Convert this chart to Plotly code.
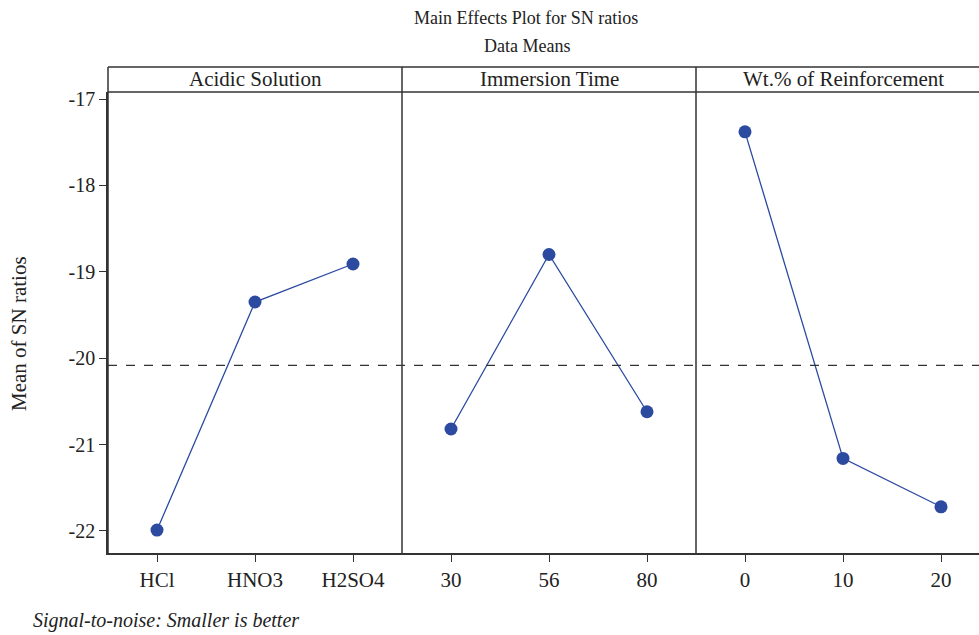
import numpy as np
import plotly.graph_objects as go

# ---- data ----
factors = ["Acidic Solution", "Immersion Time", "Wt.% of Reinforcement"]
acid_levels = ["HCl", "HNO3", "H2SO4"]
acid_sn = [-21.99, -19.35, -18.91]
time_levels = ["30", "56", "80"]
time_sn = [-20.82, -18.80, -20.62]
wt_levels = ["0", "10", "20"]
wt_sn = [-17.38, -21.16, -21.72]
y_ticks = [-17, -18, -19, -20, -21, -22]
y_ticklabels = ["-17", "-18", "-19", "-20", "-21", "-22"]

grand_mean = float(np.mean(acid_sn + time_sn + wt_sn))

FONT = "Liberation Serif"
INK = "#333333"
TXT = "#222222"
BLUE = "#2b4aa0"

W, H = 979, 635
ml, mr, mt, mb = 108, 0, 67, 82
plot_w = W - ml - mr
plot_h = H - mt - mb
data_top = 461 / plot_h  # header strip above this

d1 = 294 / plot_w
d2 = 588 / plot_w

fig = go.Figure()
series = [(acid_levels, acid_sn, "x"), (time_levels, time_sn, "x2"), (wt_levels, wt_sn, "x3")]
for lv, vals, xa in series:
    fig.add_trace(go.Scatter(
        x=lv, y=vals, xaxis=xa, yaxis="y", mode="lines+markers",
        line=dict(color=BLUE, width=1.3),
        marker=dict(color=BLUE, size=13),
        showlegend=False, hoverinfo="x+y"))

xcommon = dict(type="category", showline=True, linecolor=INK, linewidth=1.5,
               ticks="outside", ticklen=7, tickwidth=1.3, tickcolor=INK,
               showgrid=False, zeroline=False, anchor="y",
               tickfont=dict(family=FONT, size=21, color=TXT))
fig.update_layout(
    width=W, height=H,
    margin=dict(l=ml, r=mr, t=mt, b=mb),
    paper_bgcolor="white", plot_bgcolor="white",
    xaxis=dict(domain=[0, d1], range=[-0.5, 2.5], **xcommon),
    xaxis2=dict(domain=[d1, d2], range=[-0.5, 2.5], **xcommon),
    xaxis3=dict(domain=[d2, 1], range=[-0.5, -0.5 + 283 / 98], **xcommon),
    yaxis=dict(domain=[0, data_top], range=[-22.255, -16.919], anchor="x",
               tickvals=y_ticks, ticktext=y_ticklabels,
               showline=True, linecolor=INK, linewidth=1.5,
               ticks="outside", ticklen=7, tickwidth=1.3, tickcolor=INK,
               showgrid=False, zeroline=False,
               tickfont=dict(family=FONT, size=20, color=TXT)),
)

shapes = []
for xp in [0, d1, d2]:
    shapes.append(dict(type="line", xref="paper", yref="paper", x0=xp, x1=xp, y0=0, y1=1,
                       line=dict(color=INK, width=1.5)))
for yp in [1, data_top]:
    shapes.append(dict(type="line", xref="paper", yref="paper", x0=0, x1=1, y0=yp, y1=yp,
                       line=dict(color=INK, width=1.5)))
shapes.append(dict(type="line", xref="paper", yref="y", x0=0, x1=1, y0=grand_mean, y1=grand_mean,
                   line=dict(color=INK, width=1.2, dash="dash")))
fig.update_layout(shapes=shapes)

def py(p):
    return (H - mb - p) / plot_h

def px(p):
    return (p - ml) / plot_w

ann = []
centers = [d1 / 2, (d1 + d2) / 2, (d2 + (d2 + d1)) / 2]
for name, cx in zip(factors, centers):
    ann.append(dict(text=name, xref="paper", yref="paper", x=cx, y=(1 + data_top) / 2,
                    xanchor="center", yanchor="middle", showarrow=False,
                    font=dict(family=FONT, size=21, color=TXT)))
ann.append(dict(text="Main Effects Plot for SN ratios", xref="paper", yref="paper",
                x=px(526), y=py(18), xanchor="center", yanchor="middle", showarrow=False,
                font=dict(family=FONT, size=18, color=TXT)))
ann.append(dict(text="Data Means", xref="paper", yref="paper",
                x=px(527), y=py(46), xanchor="center", yanchor="middle", showarrow=False,
                font=dict(family=FONT, size=18, color=TXT)))
ann.append(dict(text="<i>Signal-to-noise: Smaller is better</i>", xref="paper", yref="paper",
                x=px(31), y=py(620), xanchor="left", yanchor="middle", showarrow=False,
                font=dict(family=FONT, size=20, color=TXT)))
ann.append(dict(text="Mean of SN ratios", xref="paper", yref="paper",
                x=px(19), y=py(334), xanchor="center", yanchor="middle", showarrow=False,
                textangle=-90, font=dict(family=FONT, size=21, color=TXT)))
fig.update_layout(annotations=ann)

fig.write_html("out.html",
               config={"displayModeBar": False},
               post_script="document.documentElement.style.margin='0';"
                           "document.body.style.margin='0';"
                           "document.body.style.overflow='hidden';")
